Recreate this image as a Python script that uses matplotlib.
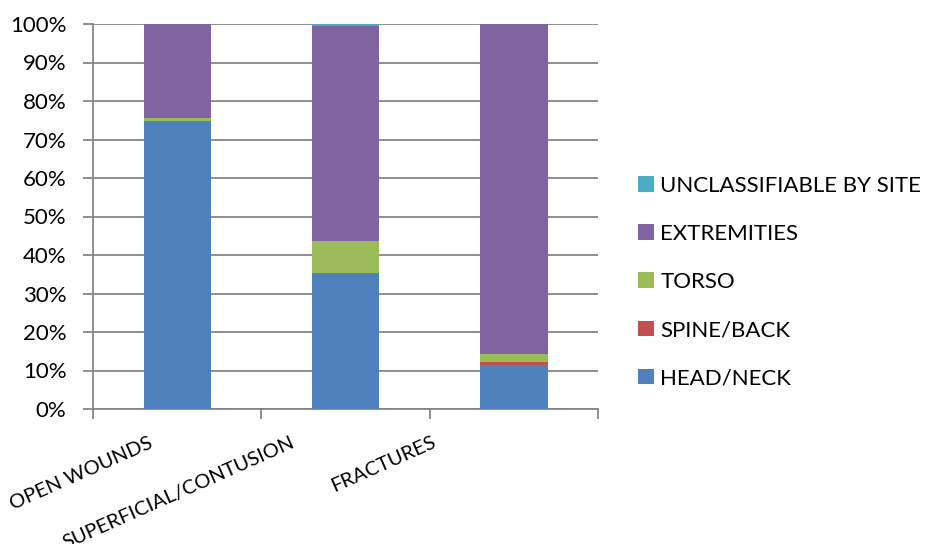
import numpy as np
import matplotlib
matplotlib.use("Agg")
from matplotlib import pyplot as plt
from matplotlib.patches import Patch
import matplotlib.transforms as mtrans

plt.rcParams['font.family'] = ['Lato', 'DejaVu Sans']

categories = ["OPEN WOUNDS", "SUPERFICIAL/CONTUSION", "FRACTURES"]
head_neck = [74.8, 35.3, 11.4]
spine_back = [0.1, 0.1, 0.7]
torso = [0.8, 8.3, 2.2]
extremities = [24.2, 55.8, 85.6]
unclassifiable = [0.1, 0.5, 0.1]

series = [
    ("HEAD/NECK", head_neck, "#4F81BD"),
    ("SPINE/BACK", spine_back, "#C0504D"),
    ("TORSO", torso, "#9BBB59"),
    ("EXTREMITIES", extremities, "#8064A2"),
    ("UNCLASSIFIABLE BY SITE", unclassifiable, "#4BACC6"),
]

fig = plt.figure(figsize=(9.26, 5.44), dpi=100)
ax = fig.add_axes([93 / 926, 135 / 544, 505 / 926, 385 / 544])

x = np.arange(len(categories))
bottom = np.zeros(len(categories))
for name, vals, col in series:
    vals = np.array(vals)
    ax.bar(x, vals, 0.4, bottom=bottom, color=col, zorder=3, label=name)
    bottom += vals

grey = "#868686"
ax.set_xlim(-0.5, len(categories) - 0.5)
ax.set_ylim(0, 100)
ax.set_yticks(np.arange(0, 101, 10))
ax.set_yticklabels([f"{v}%" for v in range(0, 101, 10)], fontsize=16, color="#000000")
ax.yaxis.grid(True, color=grey, linewidth=1.3, zorder=0)
ax.tick_params(axis='y', length=7, width=1.3, color=grey, pad=12)

# category boundaries get the tick marks, labels sit on the centres
ax.set_xticks(np.arange(-0.5, len(categories), 1.0), minor=True)
ax.tick_params(axis='x', which='minor', length=7, width=1.3, color=grey)
ax.set_xticks(x)
ax.set_xticklabels(categories, fontsize=14.5, rotation=24, rotation_mode='anchor',
                   ha='right', va='top')
ax.tick_params(axis='x', which='major', length=0, pad=0)
shifts = [(-29, -25), (-55, -25), (-82, -24)]
for lab, (dx, dy) in zip(ax.get_xticklabels(), shifts):
    lab.set_transform(lab.get_transform() +
                      mtrans.ScaledTranslation(dx / 100, dy / 100, fig.dpi_scale_trans))

for side in ("top", "right"):
    ax.spines[side].set_visible(False)
for side in ("left", "bottom"):
    ax.spines[side].set_color(grey)
    ax.spines[side].set_linewidth(1.3)
ax.set_axisbelow(True)

handles = [Patch(facecolor=col, edgecolor='none', label=name)
           for name, vals, col in reversed(series)]
fig.legend(handles=handles, loc='center left', bbox_to_anchor=(627 / 926, 1 - 282 / 544),
           frameon=False, fontsize=16, handlelength=0.7, handleheight=0.7,
           handletextpad=0.3, labelspacing=1.27, borderpad=0)

fig.savefig("out.png", dpi=100)
